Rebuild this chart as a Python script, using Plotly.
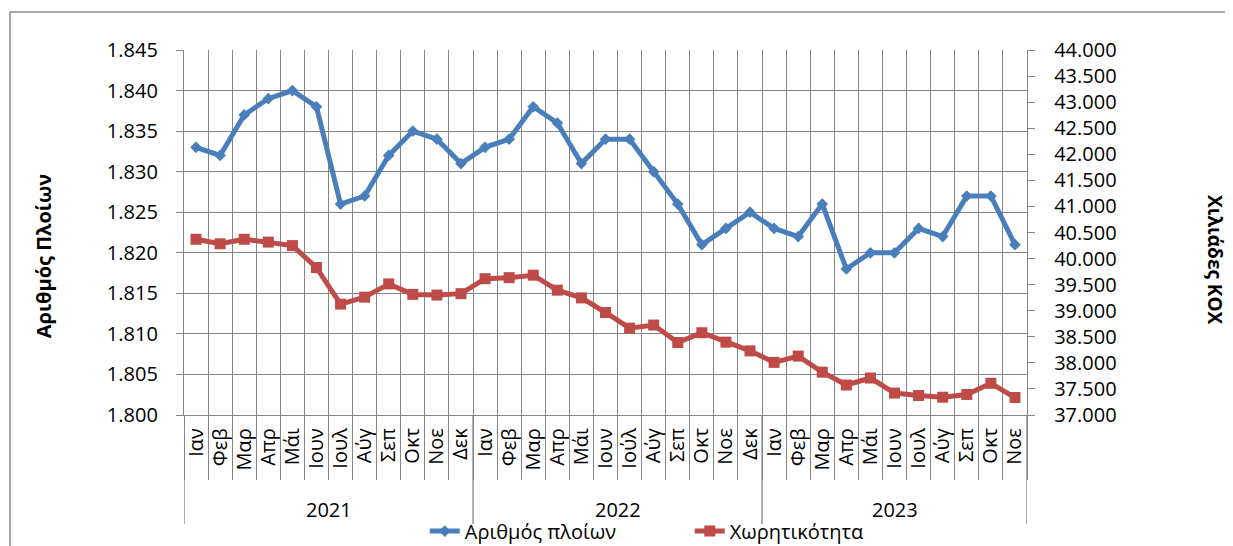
import plotly.graph_objects as go

months = ["Ιαν", "Φεβ", "Μαρ", "Απρ", "Μάι", "Ιουν", "Ιουλ", "Αύγ", "Σεπ", "Οκτ", "Νοε", "Δεκ",
          "Ιαν", "Φεβ", "Μαρ", "Απρ", "Μάι", "Ιουν", "Ιούλ", "Αύγ", "Σεπ", "Οκτ", "Νοε", "Δεκ",
          "Ιαν", "Φεβ", "Μαρ", "Απρ", "Μάι", "Ιουν", "Ιουλ", "Αύγ", "Σεπ", "Οκτ", "Νοε"]
years = ["2021"] * 12 + ["2022"] * 12 + ["2023"] * 11

ships = [1833, 1832, 1837, 1839, 1840, 1838, 1826, 1827, 1832, 1835, 1834, 1831,
         1833, 1834, 1838, 1836, 1831, 1834, 1834, 1830, 1826, 1821, 1823, 1825,
         1823, 1822, 1826, 1818, 1820, 1820, 1823, 1822, 1827, 1827, 1821]

capacity = [40370, 40283, 40370, 40316, 40249, 39828, 39126, 39260, 39514, 39313, 39300, 39327,
            39614, 39634, 39681, 39394, 39246, 38966, 38665, 38725, 38390, 38578, 38397, 38230,
            38009, 38130, 37822, 37575, 37709, 37421, 37374, 37341, 37394, 37608, 37335]

BLUE = "#4A7EBB"
RED = "#BE4B48"
GRID = "#858585"
FONT = "Open Sans"

n = len(months)
idx = list(range(n))
boundaries = [i - 0.5 for i in range(n + 1)]

# year groups (start index, end index) derived from the years list
groups = []
for i, yv in enumerate(years):
    if not groups or groups[-1][0] != yv:
        groups.append([yv, i, i])
    else:
        groups[-1][2] = i

fig = go.Figure()
fig.add_trace(go.Scatter(
    x=idx, y=ships, name="Αριθμός πλοίων", mode="lines+markers",
    line=dict(color=BLUE, width=5), marker=dict(symbol="diamond", size=9, color=BLUE),
    xaxis="x", yaxis="y"))
fig.add_trace(go.Scatter(
    x=idx, y=capacity, name="Χωρητικότητα", mode="lines+markers",
    line=dict(color=RED, width=5), marker=dict(symbol="square", size=11, color=RED),
    xaxis="x", yaxis="y2"))

annotations = [
    dict(text="<b>Αριθμός Πλοίων</b>", xref="paper", yref="paper", x=-0.1673, y=0.435,
         textangle=-90, showarrow=False, font=dict(size=20, family=FONT),
         xanchor="center", yanchor="middle"),
    dict(text="<b>Χιλιάδες ΚΟΧ</b>", xref="paper", yref="paper", x=1.223, y=0.4247,
         textangle=90, showarrow=False, font=dict(size=19, family=FONT),
         xanchor="center", yanchor="middle"),
]
shapes = [
    dict(type="rect", xref="paper", yref="paper", x0=-0.2064, y0=-0.45, x1=1.26, y1=1.104,
         line=dict(color="#8C8C8C", width=1.5), fillcolor="rgba(0,0,0,0)", layer="below"),
]
for name, s, e in groups:
    annotations.append(dict(text=name, xref="x", yref="paper", x=(s + e) / 2, y=-0.26,
                            showarrow=False, font=dict(size=20, family=FONT),
                            xanchor="center", yanchor="middle"))
    shapes.append(dict(type="line", xref="x", yref="paper", x0=s - 0.5, x1=s - 0.5,
                       y0=0, y1=-0.2986, line=dict(color=GRID, width=1.3)))
shapes.append(dict(type="line", xref="x", yref="paper", x0=n - 0.5, x1=n - 0.5,
                   y0=0, y1=-0.2986, line=dict(color=GRID, width=1.3)))

fig.update_layout(
    width=1225, height=538,
    margin=dict(l=176, r=206, t=42, b=131, autoexpand=False),
    paper_bgcolor="white", plot_bgcolor="white",
    separators=",.",
    font=dict(family=FONT, size=20, color="black"),
    showlegend=True,
    legend=dict(orientation="h", x=0.2856, xanchor="left", y=-0.3714, yanchor="bottom",
                font=dict(size=20), tracegroupgap=0, bgcolor="rgba(0,0,0,0)",
                entrywidth=220, entrywidthmode="pixels"),
    xaxis=dict(
        range=[-0.5, n - 0.5], tickmode="array", tickvals=idx, ticktext=months,
        tickangle=-90, ticks="", showgrid=False, showline=True, linecolor=GRID, linewidth=1.3,
        tickfont=dict(size=20), zeroline=False, ticklabelstandoff=4),
    xaxis2=dict(
        overlaying="x", side="bottom", range=[-0.5, n - 0.5], tickmode="array",
        tickvals=boundaries, showticklabels=False, showgrid=True, gridcolor=GRID, gridwidth=1.4,
        ticks="outside", ticklen=64, tickcolor=GRID, tickwidth=1.3, zeroline=False,
        showline=False),
    yaxis=dict(
        range=[1800, 1845], dtick=5, tick0=1800, tickformat=",d",
        showgrid=True, gridcolor=GRID, gridwidth=1.4,
        ticks="outside", ticklen=7, tickcolor=GRID, tickwidth=1.3,
        showline=True, linecolor=GRID, linewidth=1.3, zeroline=False,
        ticklabelstandoff=14, tickfont=dict(size=20)),
    yaxis2=dict(
        range=[37000, 44000], dtick=500, tick0=37000, tickformat=",d",
        overlaying="y", side="right", showgrid=False,
        ticks="outside", ticklen=7, tickcolor=GRID, tickwidth=1.3,
        showline=True, linecolor=GRID, linewidth=1.3, zeroline=False,
        ticklabelstandoff=15, tickfont=dict(size=20)),
    annotations=annotations,
    shapes=shapes,
)

# invisible trace to anchor the boundary axis
fig.add_trace(go.Scatter(x=[], y=[], xaxis="x2", yaxis="y", showlegend=False, hoverinfo="skip"))

fig.write_html("out.html")
